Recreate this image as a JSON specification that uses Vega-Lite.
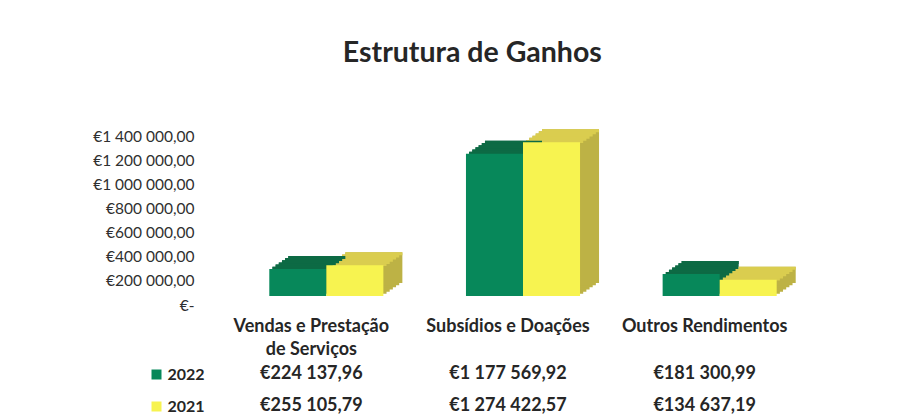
{
  "$schema": "https://vega.github.io/schema/vega-lite/v6.json",
  "background": "white",
  "padding": {"left": 92, "top": 38, "right": 5, "bottom": 0},
  "bounds": "flush",
  "config": {
    "locale": {"number": {"decimal": ",", "thousands": " ", "grouping": [3], "currency": ["€", ""]}},
    "font": "Lato",
    "view": {"stroke": null},
    "axis": {"grid": false, "domain": false, "ticks": false}
  },
  "title": {"text": "Estrutura de Ganhos", "font": "Lato", "fontSize": 28.5, "fontWeight": "bold", "color": "#262626", "anchor": "middle", "dx": 17, "offset": 60},
  "datasets": {
    "ganhos": [
      {"categoria": "Vendas e Prestação de Serviços", "ano": "2022", "valor": 224137.96},
      {"categoria": "Subsídios e Doações", "ano": "2022", "valor": 1177569.92},
      {"categoria": "Outros Rendimentos", "ano": "2022", "valor": 181300.99},
      {"categoria": "Vendas e Prestação de Serviços", "ano": "2021", "valor": 255105.79},
      {"categoria": "Subsídios e Doações", "ano": "2021", "valor": 1274422.57},
      {"categoria": "Outros Rendimentos", "ano": "2021", "valor": 134637.19}
    ]
  },
  "data": {"name": "ganhos"},
  "spacing": 62,
  "vconcat": [
    {
      "width": 590,
      "height": 169,
      "encoding": {
        "x": {
          "field": "categoria", "type": "nominal",
          "sort": ["Vendas e Prestação de Serviços", "Subsídios e Doações", "Outros Rendimentos"],
          "scale": {"paddingInner": 0.42, "paddingOuter": 0.21},
          "axis": {
            "title": null, "labelAngle": 0, "labelFontWeight": "bold", "labelFontSize": 18,
            "labelColor": "#262626", "labelPadding": 21, "labelLineHeight": 23, "labelOffset": -15,
            "labelExpr": "datum.label == 'Vendas e Prestação de Serviços' ? ['Vendas e Prestação', 'de Serviços'] : datum.label"
          }
        },
        "y": {
          "field": "valor", "type": "quantitative",
          "scale": {"domain": [0, 1400000]},
          "axis": {
            "title": null,
            "values": [0, 200000, 400000, 600000, 800000, 1000000, 1200000, 1400000],
            "format": "$,.2f",
            "labelExpr": "datum.value == 0 ? '€-\u00a0\u00a0\u00a0' : datum.label",
            "labelPadding": 34, "labelOffset": 9, "labelFontSize": 15.5, "labelColor": "#303030"
          }
        }
      },
      "layer": [
        {"mark": {"type": "bar", "yOffset": -2.17, "y2Offset": -2.17},
         "encoding": {"xOffset": {"field": "ano", "type": "nominal", "sort": ["2022", "2021"], "scale": {"range": [3.17, 117.24]}},
                      "color": {"condition": {"test": "datum.ano == '2022'", "value": "#0d6a44"}, "value": "#bdb245"}}},
        {"mark": {"type": "bar", "yOffset": -4.33, "y2Offset": -4.33},
         "encoding": {"xOffset": {"field": "ano", "type": "nominal", "sort": ["2022", "2021"], "scale": {"range": [6.33, 120.4]}},
                      "color": {"condition": {"test": "datum.ano == '2022'", "value": "#0d6a44"}, "value": "#bdb245"}}},
        {"mark": {"type": "bar", "yOffset": -6.5, "y2Offset": -6.5},
         "encoding": {"xOffset": {"field": "ano", "type": "nominal", "sort": ["2022", "2021"], "scale": {"range": [9.5, 123.57]}},
                      "color": {"condition": {"test": "datum.ano == '2022'", "value": "#0d6a44"}, "value": "#bdb245"}}},
        {"mark": {"type": "bar", "yOffset": -8.67, "y2Offset": -8.67},
         "encoding": {"xOffset": {"field": "ano", "type": "nominal", "sort": ["2022", "2021"], "scale": {"range": [12.67, 126.74]}},
                      "color": {"condition": {"test": "datum.ano == '2022'", "value": "#0d6a44"}, "value": "#bdb245"}}},
        {"mark": {"type": "bar", "yOffset": -10.83, "y2Offset": -10.83},
         "encoding": {"xOffset": {"field": "ano", "type": "nominal", "sort": ["2022", "2021"], "scale": {"range": [15.83, 129.9]}},
                      "color": {"condition": {"test": "datum.ano == '2022'", "value": "#0d6a44"}, "value": "#bdb245"}}},
        {"mark": {"type": "bar", "yOffset": -13, "y2Offset": -13},
         "encoding": {"xOffset": {"field": "ano", "type": "nominal", "sort": ["2022", "2021"], "scale": {"range": [19, 133.07]}},
                      "color": {"condition": {"test": "datum.ano == '2022'", "value": "#0d6a44"}, "value": "#bdb245"}}},
        {"mark": {"type": "bar", "yOffset": -2.17, "y2Offset": 0.83},
         "encoding": {"y2": {"field": "valor"},
                      "xOffset": {"field": "ano", "type": "nominal", "sort": ["2022", "2021"], "scale": {"range": [3.17, 117.24]}},
                      "color": {"condition": {"test": "datum.ano == '2022'", "value": "#0d6a44"}, "value": "#dacd4f"}}},
        {"mark": {"type": "bar", "yOffset": -4.33, "y2Offset": -1.33},
         "encoding": {"y2": {"field": "valor"},
                      "xOffset": {"field": "ano", "type": "nominal", "sort": ["2022", "2021"], "scale": {"range": [6.33, 120.4]}},
                      "color": {"condition": {"test": "datum.ano == '2022'", "value": "#0d6a44"}, "value": "#dacd4f"}}},
        {"mark": {"type": "bar", "yOffset": -6.5, "y2Offset": -3.5},
         "encoding": {"y2": {"field": "valor"},
                      "xOffset": {"field": "ano", "type": "nominal", "sort": ["2022", "2021"], "scale": {"range": [9.5, 123.57]}},
                      "color": {"condition": {"test": "datum.ano == '2022'", "value": "#0d6a44"}, "value": "#dacd4f"}}},
        {"mark": {"type": "bar", "yOffset": -8.67, "y2Offset": -5.67},
         "encoding": {"y2": {"field": "valor"},
                      "xOffset": {"field": "ano", "type": "nominal", "sort": ["2022", "2021"], "scale": {"range": [12.67, 126.74]}},
                      "color": {"condition": {"test": "datum.ano == '2022'", "value": "#0d6a44"}, "value": "#dacd4f"}}},
        {"mark": {"type": "bar", "yOffset": -10.83, "y2Offset": -7.83},
         "encoding": {"y2": {"field": "valor"},
                      "xOffset": {"field": "ano", "type": "nominal", "sort": ["2022", "2021"], "scale": {"range": [15.83, 129.9]}},
                      "color": {"condition": {"test": "datum.ano == '2022'", "value": "#0d6a44"}, "value": "#dacd4f"}}},
        {"mark": {"type": "bar", "yOffset": -13, "y2Offset": -10},
         "encoding": {"y2": {"field": "valor"},
                      "xOffset": {"field": "ano", "type": "nominal", "sort": ["2022", "2021"], "scale": {"range": [19, 133.07]}},
                      "color": {"condition": {"test": "datum.ano == '2022'", "value": "#0d6a44"}, "value": "#dacd4f"}}},
        {"mark": {"type": "bar"},
         "encoding": {"xOffset": {"field": "ano", "type": "nominal", "sort": ["2022", "2021"]},
                      "color": {"condition": {"test": "datum.ano == '2022'", "value": "#07885a"}, "value": "#f7f350"}}}
      ],
      "resolve": {"scale": {"xOffset": "independent"}}
    },
    {
      "width": 590,
      "height": 64,
      "mark": {"type": "text", "fontWeight": "bold", "fontSize": 18, "color": "#262626", "dx": -15},
      "encoding": {
        "x": {
          "field": "categoria", "type": "nominal",
          "sort": ["Vendas e Prestação de Serviços", "Subsídios e Doações", "Outros Rendimentos"],
          "scale": {"paddingInner": 0.42, "paddingOuter": 0.21},
          "axis": null
        },
        "y": {
          "field": "ano", "type": "nominal", "sort": ["2022", "2021"],
          "scale": {"paddingInner": 0, "paddingOuter": 0},
          "axis": {
            "title": null, "ticks": true, "tickSize": 10, "tickWidth": 10, "tickCap": "butt",
            "tickColor": {"condition": {"test": "datum.value == '2022'", "value": "#07885a"}, "value": "#f7f350"},
            "offset": 67, "labelPadding": -16, "labelAlign": "left",
            "labelFontWeight": "bold", "labelFontSize": 16, "labelColor": "#262626"
          }
        },
        "text": {"field": "valor", "type": "quantitative", "format": "$,.2f"}
      }
    }
  ]
}
